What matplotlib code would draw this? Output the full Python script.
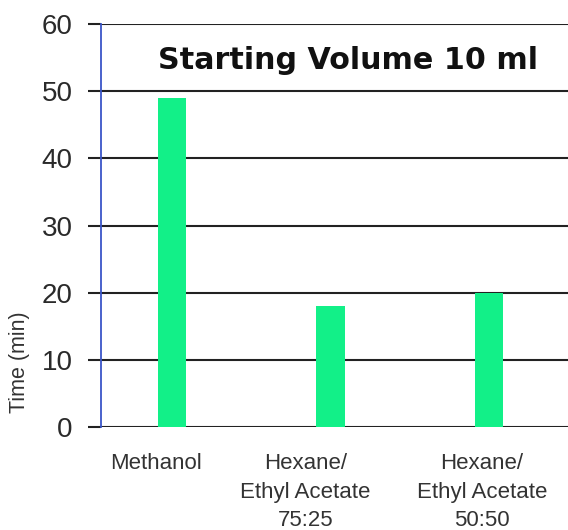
import matplotlib.pyplot as plt

plt.rcParams["font.family"] = ["Liberation Sans", "DejaVu Sans"]

# solvent systems and evaporation times
solvents = ["Methanol", "Hexane/\nEthyl Acetate\n75:25", "Hexane/\nEthyl Acetate\n50:50"]
times = [49, 18, 20]
yticks = [0, 10, 20, 30, 40, 50, 60]
label_shift = [-12, -18, -5]  # points, labels sit a bit left of the bars

fig = plt.figure(figsize=(5.68, 5.30), dpi=100)
ax = fig.add_axes([101 / 568, 103 / 530, 467 / 568, 403 / 530])

xs = range(len(solvents))
ax.bar(xs, times, width=0.18, color="#12f088", zorder=3)

ax.set_xlim(-0.45, 2.5)
ax.set_ylim(0, 60)
ax.set_yticks(yticks)
ax.yaxis.grid(True, color="#222222", linewidth=1.5, zorder=1)
ax.tick_params(axis="y", length=9.5, width=1.5, color="#222222", pad=11,
               labelsize=20, labelcolor="#2a2a2a")
ax.set_xticks([])

for i, name in enumerate(solvents):
    ax.annotate(name, xy=(i, 0), xycoords=("data", "axes fraction"),
                xytext=(label_shift[i], -19), textcoords="offset points",
                ha="center", va="top", fontsize=16, color="#333333",
                linespacing=1.45)

for s in ["top", "right", "bottom"]:
    ax.spines[s].set_visible(False)
ax.spines["left"].set_color("#3a55c8")
ax.spines["left"].set_linewidth(1.3)

ax.text(0.528, 0.91, "Starting Volume 10 ml", transform=ax.transAxes,
        fontsize=21.7, fontweight="bold", family="DejaVu Sans", color="#111111",
        ha="center", va="center")
fig.text(20 / 568, 1 - 362 / 530, "Time (min)", rotation=90, fontsize=15.5,
         color="#333333", ha="center", va="center")

fig.savefig("out.png", dpi=100)
